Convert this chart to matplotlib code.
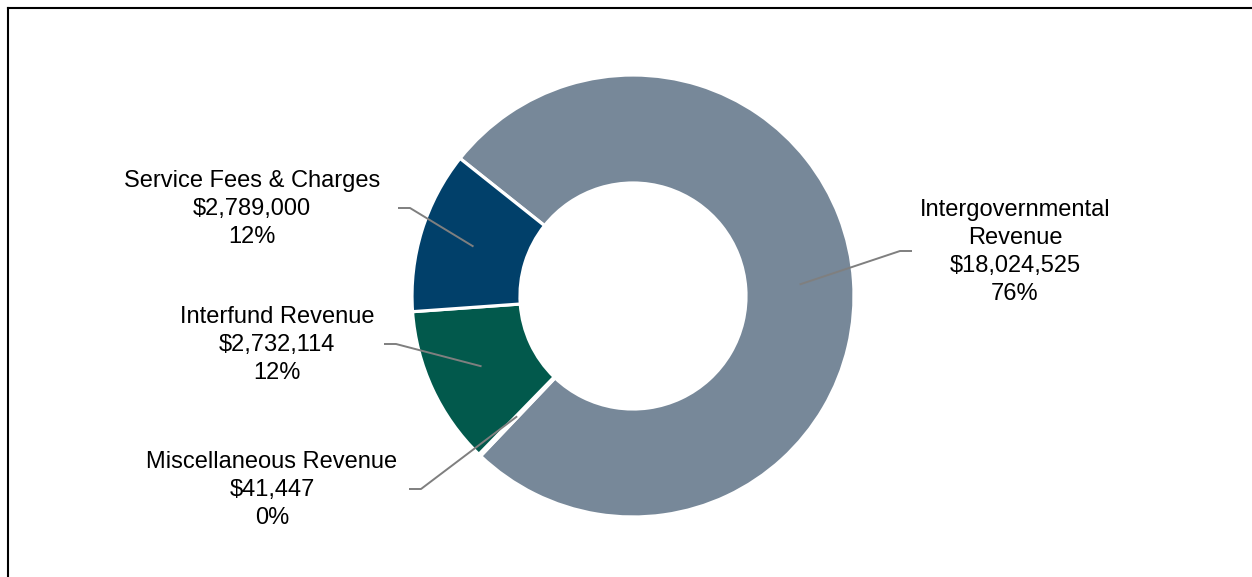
import numpy as np
import matplotlib.pyplot as plt

# revenue sources, in the clockwise order they appear in the ring
names = ['Intergovernmental\nRevenue', 'Miscellaneous Revenue', 'Interfund Revenue', 'Service Fees & Charges']
amounts = [18024525, 41447, 2732114, 2789000]
colors = ['#778899', '#02594c', '#02594c', '#01406a']

# label text centre and elbow of the leader line (pixels, y from top)
label_xy = [(1015, 252), (272, 490), (277, 345), (252, 209)]
elbow_xy = [(900, 251), (421, 489), (396, 344), (410, 208)]
elbow_dir = [1, -1, -1, -1]

W, H = 1252, 577
plt.rcParams['font.family'] = ['Liberation Sans', 'DejaVu Sans']

fig = plt.figure(figsize=(W / 100, H / 100), dpi=100)
ax = fig.add_axes([0, 0, 1, 1])

cx, cy, R = 633, H - 296, 221
wedges, _ = ax.pie(amounts, colors=colors, startangle=141.5, counterclock=False,
                   center=(cx, cy), radius=R, frame=True,
                   wedgeprops=dict(width=108, edgecolor='white', linewidth=2.3))
ax.set_xlim(0, W)
ax.set_ylim(0, H)
ax.set_aspect('equal')
ax.axis('off')

total = sum(amounts)
for w, name, amt, lxy, exy, d in zip(wedges, names, amounts, label_xy, elbow_xy, elbow_dir):
    mid = np.deg2rad((w.theta1 + w.theta2) / 2)
    px, py = cx + 167 * np.cos(mid), cy + 167 * np.sin(mid)
    ex, ey = exy[0], H - exy[1]
    ax.plot([px, ex, ex + d * 12], [py, ey, ey], color='#7f7f7f', lw=1.4,
            solid_capstyle='butt')
    txt = '%s\n$%s\n%d%%' % (name, format(amt, ','), round(100 * amt / total))
    ax.text(lxy[0], H - lxy[1], txt, ha='center', va='center', fontsize=17,
            linespacing=1.36, color='black')

# frame lines on top and left
fig.add_artist(plt.Line2D([8 / W, 1], [1 - 8 / H, 1 - 8 / H], color='black', lw=1.5))
fig.add_artist(plt.Line2D([8 / W, 8 / W], [0, 1 - 8 / H], color='black', lw=1.5))

fig.savefig('out.png', dpi=100)
